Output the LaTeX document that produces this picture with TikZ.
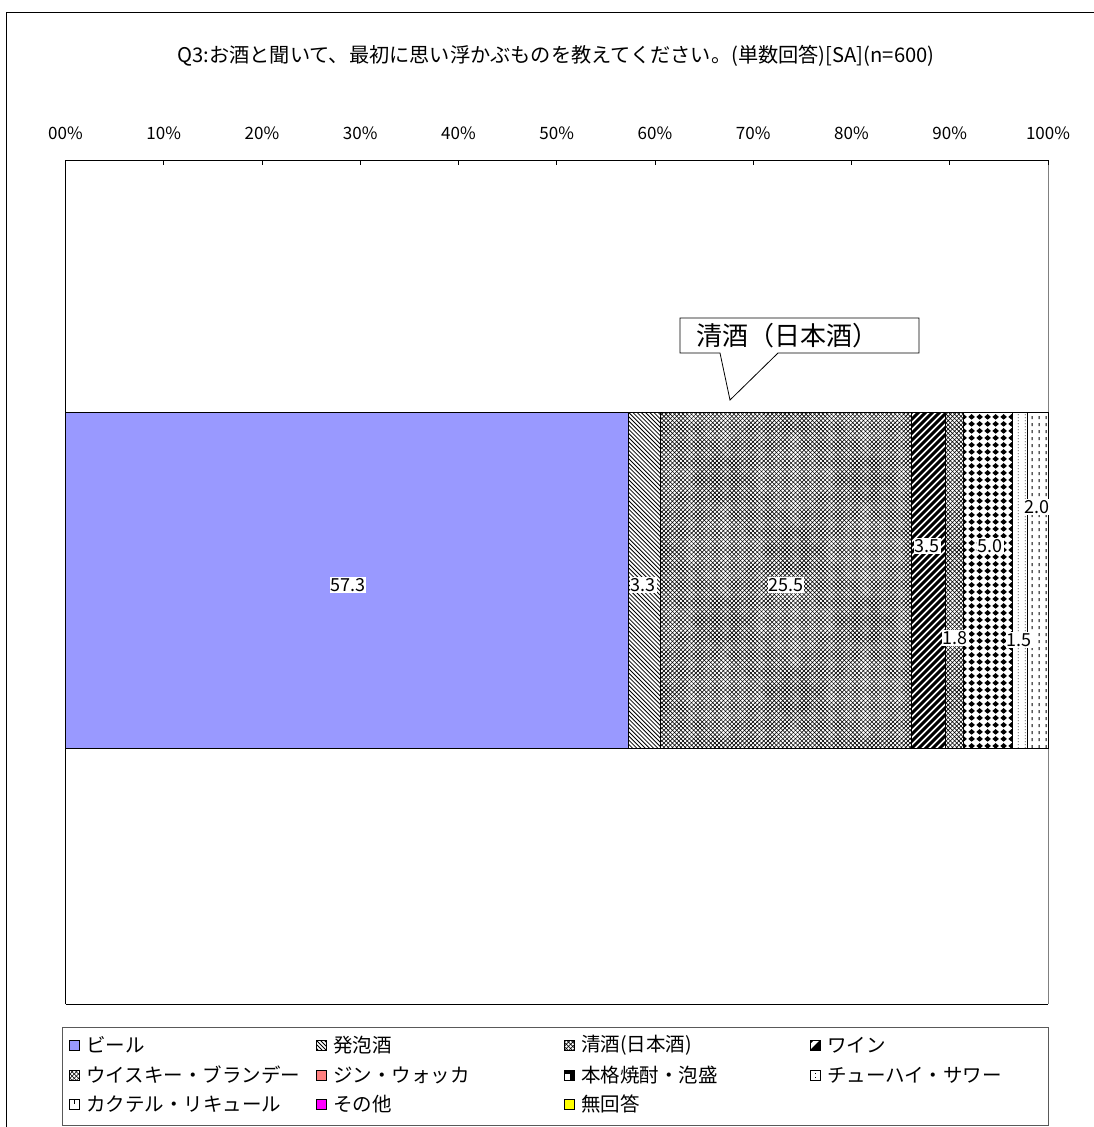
\documentclass[tikz,border=0pt]{standalone}
\usepackage{fontspec}
\setmainfont{Noto Sans CJK JP}
\usetikzlibrary{patterns.meta}
\pgfdeclarepattern{
  name=diamondgrid, type=uncolored,
  bottom left={\pgfpoint{0pt}{0pt}}, top right={\pgfpoint{8pt}{7pt}},
  tile size={\pgfpoint{8pt}{7pt}},
  code={
    \pgfpathmoveto{\pgfpoint{4pt}{0.3pt}}
    \pgfpathlineto{\pgfpoint{7.6pt}{3.5pt}}
    \pgfpathlineto{\pgfpoint{4pt}{6.7pt}}
    \pgfpathlineto{\pgfpoint{0.4pt}{3.5pt}}
    \pgfpathclose\pgfusepath{fill}}}
\pgfdeclarepattern{
  name=vdots, type=uncolored,
  bottom left={\pgfpoint{0pt}{0pt}}, top right={\pgfpoint{7pt}{3pt}},
  tile size={\pgfpoint{7pt}{3pt}},
  code={\pgfpathrectangle{\pgfpoint{3pt}{1pt}}{\pgfpoint{0.9pt}{1pt}}\pgfusepath{fill}}}
\pgfdeclarepattern{
  name=vdash, type=uncolored,
  bottom left={\pgfpoint{0pt}{0pt}}, top right={\pgfpoint{7pt}{7pt}},
  tile size={\pgfpoint{7pt}{7pt}},
  code={\pgfpathrectangle{\pgfpoint{3pt}{1pt}}{\pgfpoint{1pt}{3.5pt}}\pgfusepath{fill}}}
\definecolor{beer}{HTML}{9999FF}
\definecolor{gin}{HTML}{FF8080}
\definecolor{other}{HTML}{FF00FF}
\definecolor{noans}{HTML}{FFFF00}
\tikzset{
  fine/.style={pattern={Lines[angle=45,distance=3pt,line width=0.6pt]}},
  fineb/.style={pattern={Lines[angle=-45,distance=3pt,line width=0.6pt]}},
  shochu/.style={pattern=diamondgrid},
  chuhai/.style={pattern=vdots},
  cocktail/.style={pattern=vdash},
  val/.style={fill=white,inner sep=1pt,font=\fontsize{18}{18}\selectfont},
  axlab/.style={font=\fontsize{17}{17}\selectfont},
  legtxt/.style={anchor=west,font=\fontsize{19.5}{19.5}\selectfont,inner sep=0pt},
  legbox/.style={draw=black,line width=0.8pt}
}
\begin{document}
\begin{tikzpicture}[x=1pt,y=-1pt]
\useasboundingbox (0,0) rectangle (1094,1127);
% outer frame
\draw[line width=0.8pt] (1094,12) -- (6,12) -- (6,1127);
% title
\node[font=\fontsize{20.2}{20.2}\selectfont] (title) at (556,56) {Q3:お酒と聞いて、最初に思い浮かぶものを教えてください。(単数回答)[SA](n=600)};
% plot area
\draw[line width=0.8pt] (65.5,1004) -- (65.5,160) -- (1048,160);
\draw[line width=0.8pt] (65.5,1004) -- (1048,1004);
\draw[line width=0.8pt,gray] (1048,160) -- (1048,1004);
\foreach \i in {0,...,10}{
  \draw[line width=0.8pt] ({65.5+98.25*\i},160) -- ({65.5+98.25*\i},165);
  \node[axlab] (ax\i) at ({65.5+98.25*\i},133) {\i0\%};
}
% bar segments
\def\yt{412}\def\yb{748}
\fill[beer] (65.5,\yt) rectangle (628.5,\yb);
\begin{scope}
  \clip (628.5,\yt) rectangle (660.9,\yb);
  \foreach \s in {370,374.2,...,752}
    \draw[line width=0.8pt] (624,\s) -- (668,\s+44);
\end{scope}
\fill[white] (660.9,\yt) rectangle (911.4,\yb);
\fill[fine] (660.9,\yt) rectangle (911.4,\yb);
\fill[fineb] (660.9,\yt) rectangle (911.4,\yb);
\begin{scope}
  \clip (911.4,\yt) rectangle (945.8,\yb);
  \foreach \s in {405,412,...,800}
    \draw[line width=2.9pt] (905,\s) -- (955,\s-50);
\end{scope}
\fill[white] (945.8,\yt) rectangle (963.5,\yb);
\fill[fine] (945.8,\yt) rectangle (963.5,\yb);
\fill[fineb] (945.8,\yt) rectangle (963.5,\yb);
\fill[white] (963.5,\yt) rectangle (1012.6,\yb);
\fill[shochu] (963.5,\yt) rectangle (1012.6,\yb);
\fill[white] (1012.6,\yt) rectangle (1027.4,\yb);
\fill[chuhai] (1012.6,\yt) rectangle (1027.4,\yb);
\fill[white] (1027.4,\yt) rectangle (1048,\yb);
\fill[cocktail] (1027.4,\yt) rectangle (1048,\yb);
\foreach \a/\b in {65.5/628.5,628.5/660.9,660.9/911.4,911.4/945.8,945.8/963.5,963.5/1012.6,1012.6/1027.4,1027.4/1048}
  \draw[line width=0.9pt] (\a,\yt) rectangle (\b,\yb);
% value labels
\node[val] (v1) at (348,585) {57.3};
\node[val] (v2) at (643,585) {3.3};
\node[val] (v3) at (786,585) {25.5};
\node[val] (v4) at (927,546) {3.5};
\node[val] (v5) at (990,546) {5.0};
\node[val] (v6) at (955,638) {1.8};
\node[val] (v7) at (1019,640) {1.5};
\node[val] (v8) at (1037,507) {2.0};
% callout
\draw[fill=white,line width=0.8pt] (680,318) -- (919,318) -- (919,353) -- (778,353) -- (730,400) -- (720,353) -- (680,353) -- cycle;
\node[font=\fontsize{26}{26}\selectfont] (callout) at (787,336) {清酒（日本酒）};
% legend
\draw[line width=0.8pt,draw=gray!70!black] (62,1027) rectangle (1048,1125);
\def\ra{1045}\def\rb{1075}\def\rc{1104}
\def\ca{69}\def\cb{316}\def\cc{564}\def\cd{810}
% row 1
\filldraw[legbox,fill=beer] (\ca,\ra-5) rectangle ++(10,10);
\node[legtxt] (l1) at (\ca+17,\ra) {ビール};
\filldraw[legbox,fill=white] (\cb,\ra-5) rectangle ++(10,10);
\begin{scope}
  \clip (\cb,\ra-5) rectangle ++(10,10);
  \foreach \s in {-12,-8,...,12}
    \draw[line width=0.8pt] (\cb+\s,\ra-5) -- (\cb+\s+10,\ra+5);
\end{scope}
\draw[legbox] (\cb,\ra-5) rectangle ++(10,10);
\node[legtxt] (l2) at (\cb+17,\ra) {発泡酒};
\filldraw[legbox,fill=white] (\cc,\ra-5) rectangle ++(10,10);
\fill[fine] (\cc,\ra-5) rectangle ++(10,10);
\fill[fineb] (\cc,\ra-5) rectangle ++(10,10);
\draw[legbox] (\cc,\ra-5) rectangle ++(10,10);
\node[legtxt] (l3) at (\cc+17,\ra) {清酒(日本酒)};
\filldraw[legbox,fill=white] (\cd,\ra-5) rectangle ++(10,10);
\fill[black] (\cd,\ra+5) -- (\cd+10,\ra-5) -- (\cd+10,\ra+5) -- cycle;
\fill[black] (\cd,\ra-5) -- (\cd+4,\ra-5) -- (\cd,\ra-1) -- cycle;
\draw[legbox] (\cd,\ra-5) rectangle ++(10,10);
\node[legtxt] (l4) at (\cd+17,\ra) {ワイン};
% row 2
\filldraw[legbox,fill=white] (\ca,\rb-5) rectangle ++(10,10);
\fill[fine] (\ca,\rb-5) rectangle ++(10,10);
\fill[fineb] (\ca,\rb-5) rectangle ++(10,10);
\draw[legbox] (\ca,\rb-5) rectangle ++(10,10);
\node[legtxt] (l5) at (\ca+17,\rb) {ウイスキー・ブランデー};
\filldraw[legbox,fill=gin] (\cb,\rb-5) rectangle ++(10,10);
\node[legtxt] (l6) at (\cb+17,\rb) {ジン・ウォッカ};
\filldraw[legbox,fill=white] (\cc,\rb-5) rectangle ++(10,10);
\fill[black] (\cc,\rb-5) rectangle ++(10,4);
\fill[black] (\cc+6,\rb-1) rectangle ++(4,6);
\draw[legbox] (\cc,\rb-5) rectangle ++(10,10);
\node[legtxt] (l7) at (\cc+17,\rb) {本格焼酎・泡盛};
\filldraw[legbox,fill=white] (\cd,\rb-5) rectangle ++(10,10);
\fill[black] (\cd+4.5,\rb-2.5) rectangle ++(1,1);
\fill[black] (\cd+4.5,\rb+1.5) rectangle ++(1,1);
\node[legtxt] (l8) at (\cd+17,\rb) {チューハイ・サワー};
% row 3
\filldraw[legbox,fill=white] (\ca,\rc-5) rectangle ++(10,10);
\fill[black] (\ca+4.5,\rc-5) rectangle ++(1,4.5);
\node[legtxt] (l9) at (\ca+17,\rc) {カクテル・リキュール};
\filldraw[legbox,fill=other] (\cb,\rc-5) rectangle ++(10,10);
\node[legtxt] (l10) at (\cb+17,\rc) {その他};
\filldraw[legbox,fill=noans] (\cc,\rc-5) rectangle ++(10,10);
\node[legtxt] (l11) at (\cc+17,\rc) {無回答};
\end{tikzpicture}
\end{document}
